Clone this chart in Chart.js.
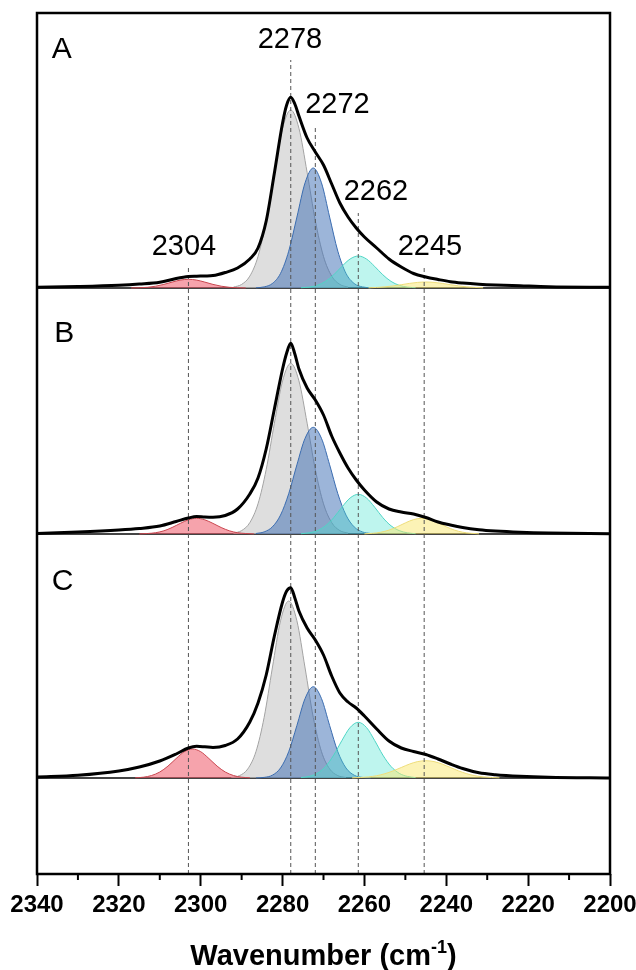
<!DOCTYPE html>
<html>
<head>
<meta charset="utf-8">
<script src="https://cdn.jsdelivr.net/npm/chart.js@4.4.0/dist/chart.umd.min.js"></script>
<style>
  html, body { margin: 0; padding: 0; background: #fff; }
  canvas { display: block; }
</style>
</head>
<body>
<canvas id="chart" width="636" height="970"></canvas>
<script>
// eixo x (cm-1) da curva experimental
var envX = [2340, 2330, 2320, 2315, 2310, 2306, 2303, 2301, 2299, 2297, 2294, 2291, 2288, 2286, 2284, 2282, 2280, 2279, 2278, 2277, 2276, 2274, 2272, 2270, 2268, 2266, 2264, 2262, 2260, 2257, 2254, 2251, 2248, 2245, 2242, 2239, 2236, 2232, 2228, 2222, 2215, 2200];
var envA = [0.7, 1.5, 2.8, 4.0, 5.8, 9.5, 11.5, 11.8, 12.0, 12.4, 15.5, 20, 29, 40, 67, 115, 165, 183, 190.7, 184, 172, 150, 136, 123, 104, 85, 71, 60, 51, 40, 29, 21, 14.5, 11, 8.5, 6.3, 5, 3.8, 3.0, 2.2, 1.3, 0.7];
var envB = [0.6, 2.0, 4.0, 5.5, 8.0, 12.5, 16, 17.5, 17, 16.8, 18.5, 25, 40, 56, 85, 125, 165, 181, 190.7, 180, 165, 146, 134, 119, 98, 81, 66, 54, 44, 32, 25, 22, 20, 16.5, 12, 9, 6.5, 4.3, 3.0, 1.8, 1.0, 0.3];
var envC = [1.0, 2.7, 7, 11, 17, 24, 30, 31.7, 31.2, 30.5, 32.5, 39, 56, 75, 103, 142, 176, 187, 190.3, 180, 167, 150, 138, 123, 102, 85, 76, 70, 62, 49, 37, 30, 26.5, 23.5, 19, 14, 9.5, 5.2, 3.3, 1.7, 0.7, 0];

// componentes (deslocamento em cm-1 a partir do centro)
var compStep = [-14, -12, -10, -8, -6, -4, -2, 0, 2, 4, 6, 8, 10, 12, 14];
var wideStep = [-18, -16, -14, -12, -10, -8, -6, -4, -2, 0, 2, 4, 6, 8, 10, 12, 14, 16, 18];

var centersA = { red: 2303, gray: 2278, blue: 2272.5, cyan: 2261.5, yellow: 2245 };
var centersB = { red: 2301, gray: 2278, blue: 2272.5, cyan: 2261.5, yellow: 2246 };
var centersC = { red: 2302, gray: 2278.5, blue: 2272.5, cyan: 2261.5, yellow: 2245 };

var redA = [0.07, 0.25, 0.7, 1.8, 3.6, 5.9, 7.9, 8.7, 7.9, 5.9, 3.6, 1.8, 0.7, 0.25, 0.07];
var grayA = [0.9, 3.6, 11.9, 31.5, 67.3, 115.5, 159.7, 178, 159.7, 115.5, 67.3, 31.5, 11.9, 3.6, 0.9];
var blueA = [0.2, 1.1, 4.5, 14.6, 36.8, 70.9, 105.2, 120, 105.2, 70.9, 36.8, 14.6, 4.5, 1.1, 0.2];
var cyanA = [0.3, 0.9, 2.7, 6.6, 13.2, 21.6, 29.0, 32, 29.0, 21.6, 13.2, 6.6, 2.7, 0.9, 0.3];
var yellowA = [0.23, 0.56, 1.15, 2.1, 3.3, 4.6, 5.6, 6, 5.6, 4.6, 3.3, 2.1, 1.15, 0.56, 0.23];

var redB = [0.1, 0.5, 1.3, 3.2, 6.5, 10.6, 14.2, 15.7, 14.2, 10.6, 6.5, 3.2, 1.3, 0.5, 0.1];
var grayB = [0.9, 3.4, 11.4, 30.2, 64.5, 110.8, 153.1, 170.7, 153.1, 110.8, 64.5, 30.2, 11.4, 3.4, 0.9];
var blueB = [0.5, 2.1, 7.1, 18.9, 40.3, 69.2, 95.7, 106.7, 95.7, 69.2, 40.3, 18.9, 7.1, 2.1, 0.5];
var cyanB = [0.3, 1.2, 3.4, 8.2, 16.3, 26.8, 36.0, 39.7, 36.0, 26.8, 16.3, 8.2, 3.4, 1.2, 0.3];
var yellowB = [0.2, 0.7, 1.8, 3.9, 7.2, 11.1, 14.4, 15.7, 14.4, 11.1, 7.2, 3.9, 1.8, 0.7, 0.2];

var redC = [0.2, 0.8, 2.5, 6.0, 11.9, 19.5, 26.3, 29, 26.3, 19.5, 11.9, 6.0, 2.5, 0.8, 0.2];
var grayC = [0.5, 2.4, 9.1, 26.4, 60.7, 110, 157.2, 177, 157.2, 110, 60.7, 26.4, 9.1, 2.4, 0.5];
var blueC = [0.1, 0.6, 2.8, 10.0, 26.3, 52.5, 79.5, 91.3, 79.5, 52.5, 26.3, 10.0, 2.8, 0.6, 0.1];
var cyanC = [0.4, 1.6, 4.7, 11.5, 22.9, 37.5, 50.5, 55.7, 50.5, 37.5, 22.9, 11.5, 4.7, 1.6, 0.4];
var yellowC = [0.2, 0.5, 1.1, 2.3, 4.3, 7.1, 10.5, 13.9, 16.4, 17.3, 16.4, 13.9, 10.5, 7.1, 4.3, 2.3, 1.1, 0.5, 0.2];

// linhas tracejadas e rótulos dos picos
var markerWn = [2303, 2278, 2272, 2261.5, 2245.4];
var markerTop = [606, 814, 749, 661, 607];
var peakLabels = ['2304', '2278', '2272', '2262', '2245'];
var peakLabelX = [2304.1, 2278.2, 2266.6, 2257.2, 2244];
var peakLabelY = [619, 826, 761, 674, 619];

var panelNames = ['A', 'B', 'C'];
var panelBase = [586, 340, 96];
var panelLetterX = [2336.4, 2335.8, 2336.4];
var panelLetterY = [816, 532, 284];

var xTicks = [2340, 2320, 2300, 2280, 2260, 2240, 2220, 2200];
var xMinor = [2330, 2310, 2290, 2270, 2250, 2230, 2210];

var FONT = "'Liberation Sans', Arial, Helvetica, sans-serif";

var compStyle = {
    red:    { fill: 'rgba(238,88,104,0.55)',  line: '#c9464f', order: 3 },
    gray:   { fill: 'rgba(204,204,204,0.65)', line: '#a3a3a3', order: 6 },
    blue:   { fill: 'rgba(58,108,180,0.5)',   line: '#3a6cb0', order: 5 },
    cyan:   { fill: 'rgba(70,225,205,0.35)',  line: '#4ed5c5', order: 4 },
    yellow: { fill: 'rgba(250,232,110,0.5)',  line: '#eedd7a', order: 2 }
};

function curve(xs, ys, base) {
    return ys.map(function (v, i) { return { x: xs[i], y: base + v }; });
}

function component(name, center, steps, values, base) {
    var xs = steps.map(function (d) { return center + d; });
    var st = compStyle[name];
    return {
        data: curve(xs, values, base),
        borderColor: st.line,
        borderWidth: 1,
        backgroundColor: st.fill,
        fill: { value: base },
        pointRadius: 0,
        cubicInterpolationMode: 'monotone',
        order: st.order
    };
}

function envelope(values, base) {
    return {
        data: curve(envX, values, base),
        borderColor: '#000',
        borderWidth: 3,
        fill: false,
        pointRadius: 0,
        cubicInterpolationMode: 'monotone',
        order: 0
    };
}

var datasets = [];
var comps = [
    [centersA, { red: redA, gray: grayA, blue: blueA, cyan: cyanA, yellow: yellowA }],
    [centersB, { red: redB, gray: grayB, blue: blueB, cyan: cyanB, yellow: yellowB }],
    [centersC, { red: redC, gray: grayC, blue: blueC, cyan: cyanC, yellow: yellowC }]
];
var envs = [envA, envB, envC];

comps.forEach(function (p, i) {
    var base = panelBase[i];
    ['gray', 'blue', 'cyan', 'red', 'yellow'].forEach(function (n) {
        var steps = p[1][n].length === wideStep.length ? wideStep : compStep;
        datasets.push(component(n, p[0][n], steps, p[1][n], base));
    });
    datasets.push(envelope(envs[i], base));
});

markerWn.forEach(function (wn, i) {
    datasets.push({
        data: [{ x: wn, y: 0 }, { x: wn, y: markerTop[i] }],
        borderColor: '#555',
        borderWidth: 1,
        borderDash: [4, 3],
        pointRadius: 0,
        fill: false,
        order: 1
    });
});

// moldura, separadores, ticks menores e textos
var decorPlugin = {
    id: 'decor',
    beforeDatasetsDraw: function (chart) {
        var ctx = chart.ctx, a = chart.chartArea, ys = chart.scales.y;
        ctx.save();
        ctx.strokeStyle = '#444';
        ctx.lineWidth = 2;
        panelBase.forEach(function (b) {
            var y = ys.getPixelForValue(b);
            ctx.beginPath();
            ctx.moveTo(a.left, y);
            ctx.lineTo(a.right, y);
            ctx.stroke();
        });
        ctx.restore();
    },
    afterDraw: function (chart) {
        var ctx = chart.ctx, a = chart.chartArea;
        var xs = chart.scales.x, ys = chart.scales.y;
        ctx.save();
        ctx.strokeStyle = '#000';
        ctx.lineWidth = 2.5;
        ctx.strokeRect(a.left, a.top, a.right - a.left, a.bottom - a.top);

        ctx.lineWidth = 2;
        xMinor.forEach(function (v) {
            var x = xs.getPixelForValue(v);
            ctx.beginPath();
            ctx.moveTo(x, a.bottom);
            ctx.lineTo(x, a.bottom + 6);
            ctx.stroke();
        });

        ctx.fillStyle = '#000';
        ctx.textAlign = 'center';
        ctx.textBaseline = 'alphabetic';
        ctx.font = '29px ' + FONT;
        peakLabels.forEach(function (t, i) {
            ctx.fillText(t, xs.getPixelForValue(peakLabelX[i]), ys.getPixelForValue(peakLabelY[i]));
        });

        ctx.textAlign = 'left';
        ctx.font = '30px ' + FONT;
        panelNames.forEach(function (t, i) {
            ctx.fillText(t, xs.getPixelForValue(panelLetterX[i]), ys.getPixelForValue(panelLetterY[i]));
        });

        // título do eixo x com sobrescrito
        var main = 'Wavenumber (cm', sup = '-1', close = ')';
        ctx.font = 'bold 29px ' + FONT;
        var w1 = ctx.measureText(main).width;
        var w3 = ctx.measureText(close).width;
        ctx.font = 'bold 18px ' + FONT;
        var w2 = ctx.measureText(sup).width;
        var cx = (a.left + a.right) / 2;
        var x0 = cx - (w1 + w2 + w3) / 2;
        var yb = 965;
        ctx.font = 'bold 29px ' + FONT;
        ctx.fillText(main, x0, yb);
        ctx.fillText(close, x0 + w1 + w2, yb);
        ctx.font = 'bold 18px ' + FONT;
        ctx.fillText(sup, x0 + w1, yb - 12);
        ctx.restore();
    }
};

var ctx = document.getElementById('chart').getContext('2d');
var myChart = new Chart(ctx, {
    type: 'line',
    data: { datasets: datasets },
    plugins: [decorPlugin],
    options: {
        responsive: false,
        animation: false,
        devicePixelRatio: 1,
        events: [],
        layout: { padding: { top: 13, left: 37, right: 26, bottom: 0 } },
        plugins: {
            legend: { display: false },
            tooltip: { enabled: false },
            filler: { propagate: false }
        },
        scales: {
            x: {
                type: 'linear',
                min: 2200,
                max: 2340,
                reverse: true,
                afterFit: function (s) { s.height = 96; s.paddingLeft = 0; s.paddingRight = 0; },
                afterBuildTicks: function (s) {
                    s.ticks = xTicks.map(function (v) { return { value: v }; });
                },
                grid: { display: true, drawOnChartArea: false, drawTicks: true, tickLength: 12, tickWidth: 2, tickColor: '#000' },
                border: { display: false },
                ticks: {
                    color: '#000',
                    padding: 5,
                    maxRotation: 0,
                    autoSkip: false,
                    callback: function (v) { return String(v); },
                    font: { family: FONT, size: 24, weight: 'bold' }
                }
            },
            y: { display: false, min: 0, max: 861 }
        }
    }
});
</script>
</body>
</html>
